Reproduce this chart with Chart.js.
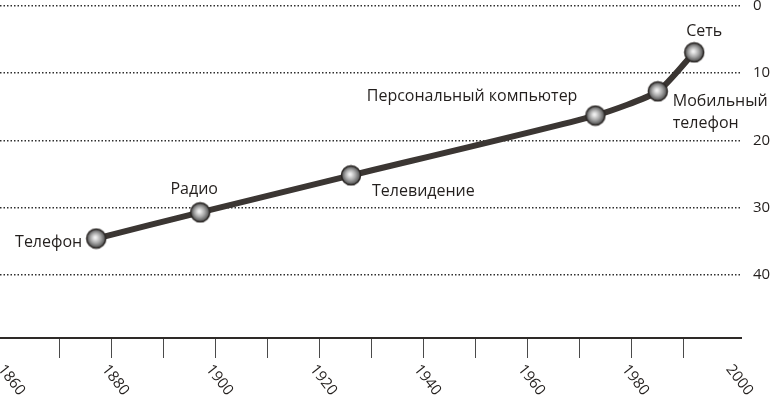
<!DOCTYPE html>
<html>
<head>
<meta charset="utf-8">
<script src="https://cdn.jsdelivr.net/npm/chart.js@4"></script>
<style>
  html, body { margin: 0; padding: 0; background: #fff; }
  #wrap { width: 770px; height: 395px; }
</style>
</head>
<body>
<div id="wrap"><canvas id="myChart"></canvas></div>
<script>
// Years each technology appeared and the value on the (reversed) right axis
const years = [1877, 1897, 1926, 1973, 1985, 1992]
const values = [34.6, 30.7, 25.2, 16.3, 12.7, 6.9]
const names = ['Телефон', 'Радио', 'Телевидение', 'Персональный компьютер', ['Мобильный', 'телефон'], 'Сеть']
const yearLabels = [1860, 1880, 1900, 1920, 1940, 1960, 1980, 2000]

// where each name sits relative to its point: [dx, dy, align]
const namePlacement = [
    [-14, 4, 'right'],
    [-6, -23, 'center'],
    [21, 16, 'left'],
    [-18, -19, 'right'],
    [15, 10, 'left'],
    [10, -21, 'center']
]

const font = '"Open Sans", "Noto Sans", sans-serif'
const ink = '#231f1d'

// grey ball used as point marker
function makeBall(){
    const c = document.createElement('canvas')
    c.width = 22
    c.height = 22
    const g = c.getContext('2d')
    const grad = g.createRadialGradient(10, 10, 1, 11, 11, 10)
    grad.addColorStop(0, '#efefef')
    grad.addColorStop(0.45, '#a8a8a8')
    grad.addColorStop(1, '#3f3f3f')
    g.beginPath()
    g.arc(11, 11, 9.5, 0, Math.PI * 2)
    g.fillStyle = grad
    g.fill()
    g.lineWidth = 1.5
    g.strokeStyle = '#2b2725'
    g.stroke()
    return c
}

const namesPlugin = {
    id: 'names',
    afterDatasetsDraw(chart){
        const ctx = chart.ctx
        const pts = chart.getDatasetMeta(0).data
        ctx.save()
        ctx.font = '16px ' + font
        ctx.fillStyle = ink
        ctx.textBaseline = 'middle'
        pts.forEach((p, i) => {
            const [dx, dy, align] = namePlacement[i]
            const lines = Array.isArray(names[i]) ? names[i] : [names[i]]
            ctx.textAlign = align
            lines.forEach((t, j) => ctx.fillText(t, p.x + dx, p.y + dy + j * 22))
        })
        ctx.restore()
    },
    afterDraw(chart){
        // year labels, turned clockwise under the ticks
        const ctx = chart.ctx
        const xs = chart.scales.x
        ctx.save()
        ctx.font = '15px ' + font
        ctx.fillStyle = ink
        ctx.textAlign = 'left'
        ctx.textBaseline = 'top'
        yearLabels.forEach(y => {
            const px = xs.getPixelForValue(y)
            ctx.save()
            ctx.translate(px - 1, xs.top + 24)
            ctx.rotate(52 * Math.PI / 180)
            ctx.fillText(String(y), 0, 0)
            ctx.restore()
        })
        ctx.restore()
    }
}

const ctx = document.getElementById('myChart')
const myChart = new Chart(ctx, {
    type: 'line',
    data: {
        datasets: [{
            data: years.map((y, i) => ({x: y, y: values[i]})),
            borderColor: '#3b3633',
            borderWidth: 6,
            pointStyle: makeBall(),
            pointRadius: 10,
            tension: 0.2
        }]
    },
    options: {
        responsive: true,
        maintainAspectRatio: false,
        animation: false,
        events: [],
        layout: {
            autoPadding: false,
            padding: {top: 0, left: 0, right: 0, bottom: 37}
        },
        scales: {
            x: {
                type: 'linear',
                min: 1858.5,
                max: 2001,
                afterBuildTicks: axis => {
                    axis.ticks = axis.ticks.filter(t => t.value % 10 === 0)
                },
                ticks: {stepSize: 10, display: false},
                grid: {
                    drawOnChartArea: false,
                    drawTicks: true,
                    tickLength: 20,
                    color: '#4a4a4a',
                    lineWidth: 1
                },
                border: {display: true, color: '#2e2a28', width: 2}
            },
            y: {
                position: 'right',
                reverse: true,
                min: 0,
                max: 49.4,
                afterBuildTicks: axis => {
                    axis.ticks = axis.ticks.filter(t => t.value % 10 === 0)
                },
                afterFit: axis => {
                    axis.paddingTop = 6
                    axis.paddingBottom = 0
                    axis.width = 29
                },
                ticks: {
                    stepSize: 10,
                    padding: 12,
                    color: ink,
                    font: {family: font, size: 15, lineHeight: 0.8}
                },
                grid: {
                    drawTicks: false,
                    color: '#2e2e2e',
                    lineWidth: 1.5
                },
                border: {display: false, dash: [1.5, 2]}
            }
        },
        plugins: {
            legend: {display: false},
            tooltip: {enabled: false}
        }
    },
    plugins: [namesPlugin]
})
</script>
</body>
</html>
